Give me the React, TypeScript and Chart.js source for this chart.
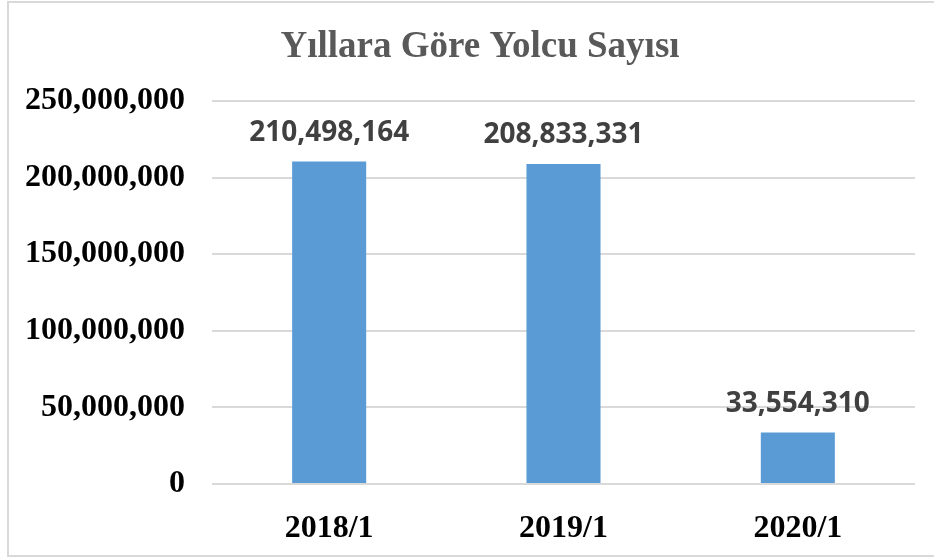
import React, { useEffect, useRef } from "react";
import { Chart, registerables } from "chart.js";

Chart.register(...registerables);

const categories = ["2018/1", "2019/1", "2020/1"];
const passengers = [210498164, 208833331, 33554310];
const yTicks = [0, 50000000, 100000000, 150000000, 200000000, 250000000];
const titleText = "Yıllara Göre Yolcu Sayısı";

const fmt = (v: number) => v.toLocaleString("en-US");

const dataLabelPlugin = {
  id: "dataLabels",
  afterDatasetsDraw(chart: any) {
    const ctx = chart.ctx;
    const meta = chart.getDatasetMeta(0);
    ctx.save();
    ctx.font = "bold 28px 'Open Sans'";
    ctx.fillStyle = "#404040";
    ctx.textAlign = "center";
    ctx.textBaseline = "alphabetic";
    meta.data.forEach((bar: any, i: number) => {
      ctx.fillText(fmt(passengers[i]), bar.x, bar.y - 21);
    });
    ctx.restore();
  },
};

const titlePlugin = {
  id: "customTitle",
  afterDraw(chart: any) {
    const ctx = chart.ctx;
    ctx.save();
    ctx.font = "bold 37px 'Liberation Serif'";
    ctx.fillStyle = "#595959";
    ctx.textAlign = "center";
    ctx.textBaseline = "alphabetic";
    ctx.fillText(titleText, 480, 57);
    ctx.restore();
  },
};

export default function App() {
  const ref = useRef<HTMLCanvasElement>(null);

  useEffect(() => {
    if (!ref.current) return;
    const chart = new Chart(ref.current, {
      type: "bar",
      data: {
        labels: categories,
        datasets: [
          {
            data: passengers,
            backgroundColor: "#5B9BD5",
            borderWidth: 0,
            categoryPercentage: 1,
            barPercentage: 0.316,
          },
        ],
      },
      options: {
        responsive: false,
        animation: false,
        maintainAspectRatio: false,
        layout: { padding: { left: 0, right: 19, top: 101, bottom: 18 } },
        plugins: {
          legend: { display: false },
          tooltip: { enabled: false },
          title: { display: false },
        },
        scales: {
          x: {
            grid: { display: false },
            border: { display: false },
            afterFit: (scale: any) => {
              scale.height = 56;
            },
            ticks: {
              color: "#000000",
              padding: 18,
              maxRotation: 0,
              font: { family: "'Liberation Serif'", size: 32, weight: "bold" },
            },
          },
          y: {
            min: 0,
            max: 250000000,
            afterBuildTicks: (scale: any) => {
              scale.ticks = yTicks.map((v) => ({ value: v }));
            },
            afterFit: (scale: any) => {
              scale.width = 212;
            },
            grid: { color: "#d9d9d9", lineWidth: 2, drawTicks: false },
            border: { display: false },
            ticks: {
              color: "#000000",
              padding: 27,
              font: { family: "'Liberation Serif'", size: 32, weight: "bold" },
              callback: (v: any) => fmt(Number(v)),
            },
          },
        },
      },
      plugins: [dataLabelPlugin, titlePlugin],
    });
    return () => chart.destroy();
  }, []);

  return (
    <div
      style={{
        position: "fixed",
        left: 0,
        top: 0,
        width: 934,
        height: 558,
        overflow: "hidden",
        background: "#ffffff",
      }}
    >
      <div
        style={{
          position: "absolute",
          left: 7,
          top: 1,
          width: 940,
          height: 556,
          boxSizing: "border-box",
          border: "2px solid #d9d9d9",
        }}
      />
      <canvas
        ref={ref}
        width={934}
        height={558}
        style={{ position: "absolute", left: 0, top: 0 }}
      />
    </div>
  );
}
